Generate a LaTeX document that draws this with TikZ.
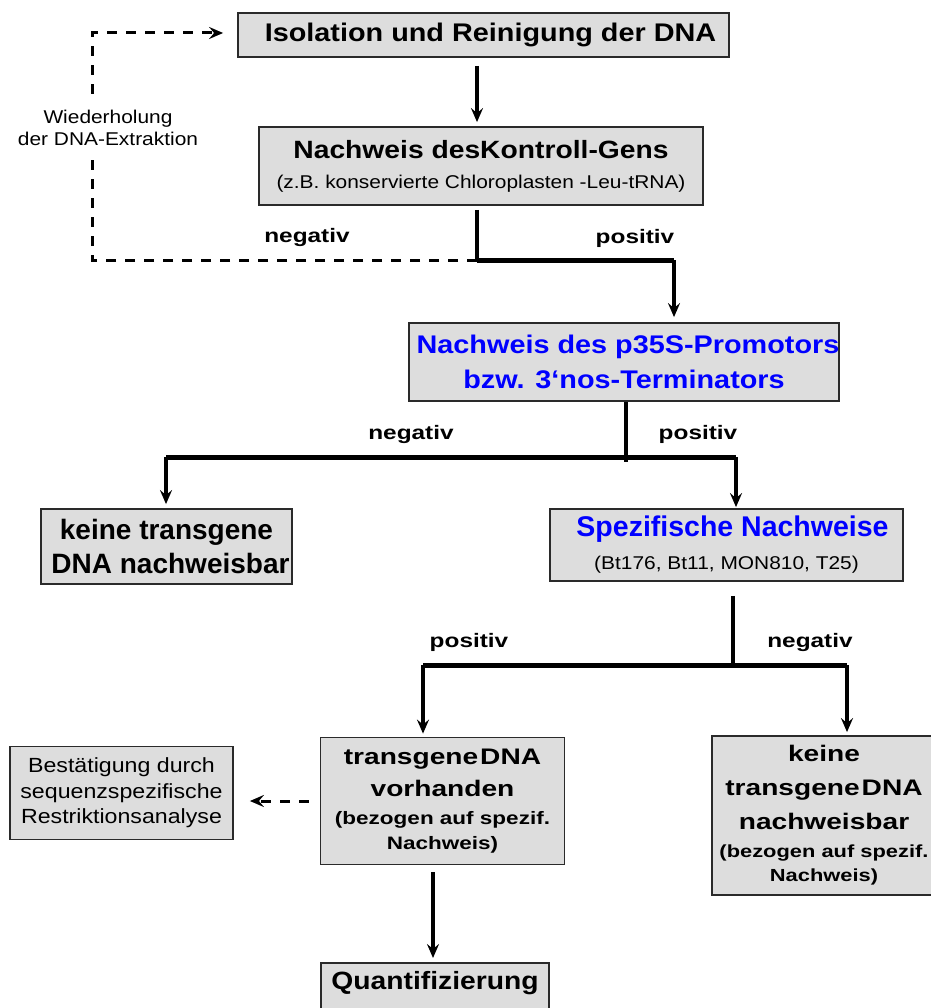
\documentclass[tikz,border=0pt]{standalone}
\usepackage{fontspec}
\setmainfont[FakeStretch=1.13]{Liberation Sans}
\newfontfamily\plainface{Liberation Sans}
\newfontfamily\wideface[FakeStretch=1.25]{Liberation Sans}
\usetikzlibrary{arrows.meta}
\definecolor{boxfill}{HTML}{DDDDDD}
\definecolor{boxline}{HTML}{2A2A2A}
\definecolor{hblue}{HTML}{0000FF}

\begin{document}
\begin{tikzpicture}[x=1pt,y=-1pt,
  box/.style={draw=boxline, line width=1.8pt, fill=boxfill, align=center, inner sep=0pt},
  tip/.style={-{Stealth[length=14pt,width=12pt,inset=5pt]}},
  link/.style={line width=3.5pt},
  bar/.style={line width=5pt},
  flow/.style={link, tip},
  loopback/.style={line width=3pt, dash pattern=on 10pt off 9pt, tip},
  branch/.style={font=\wideface\fontsize{19.5}{22}\selectfont\bfseries}]

\useasboundingbox (0,0) rectangle (930,1008);

% boxes
\node[box, minimum width=491pt, minimum height=44pt,
      font=\fontsize{25.5}{30}\selectfont\bfseries] (iso) at (483.5,35)
  {\hspace*{14pt}Isolation und Reinigung der DNA};

\node[box, minimum width=444pt, minimum height=78pt,
      font=\fontsize{25}{30}\selectfont\bfseries] (ctrl) at (481,166)
  {Nachweis desKontroll-Gens\\
   {\fontsize{18.5}{30}\selectfont\mdseries (z.B. konservierte Chloroplasten -Leu-tRNA)}};

\node[box, minimum width=428pt, minimum height=78pt, text=hblue,
      font=\fontsize{25.5}{35}\selectfont\bfseries] (p35) at (624,362)
  {\hspace*{8pt}Nachweis des p35S-Promotors\\bzw. 3‘nos-Terminators};

\node[box, minimum width=251pt, minimum height=75pt,
      font=\plainface\fontsize{28}{34}\selectfont\bfseries] (keine1) at (166.5,546.5)
  {keine transgene\\\hspace*{8pt}DNA nachweisbar};

\node[box, minimum width=353pt, minimum height=72pt,
      font=\fontsize{25.5}{33}\selectfont\bfseries] (spez) at (726.5,545)
  {\hspace*{12pt}{\plainface\color{hblue}\fontsize{28.5}{33}\selectfont Spezifische Nachweise}\\
   {\fontsize{18.5}{33}\selectfont\mdseries (Bt176, Bt11, MON810, T25)}};

\node[box, minimum width=223pt, minimum height=93pt,
      font=\fontsize{20.5}{25.5}\selectfont] (best) at (121.5,793)
  {Bestätigung durch\\sequenzspezifische\\Restriktionsanalyse};

\node[box, minimum width=244pt, minimum height=127pt,
      font=\wideface\fontsize{22.5}{32}\selectfont\bfseries] (trans) at (442.5,801)
  {transgene\hspace{2pt}DNA\\vorhanden\\[-4pt]
   {\fontsize{18}{32}\selectfont(bezogen auf spezif.}\\[-7pt]
   {\fontsize{18}{32}\selectfont Nachweis)}};

\node[box, minimum width=224pt, minimum height=159pt,
      font=\wideface\fontsize{22.5}{34}\selectfont\bfseries] (keine2) at (824,815.5)
  {keine\\transgene\hspace{2pt}DNA\\nachweisbar\\[-6pt]
   {\fontsize{17.5}{34}\selectfont(bezogen auf spezif.}\\[-10pt]
   {\fontsize{17.5}{34}\selectfont Nachweis)}};

\node[box, anchor=north, minimum width=228pt, text height=27pt, text depth=40pt,
      font=\fontsize{25}{30}\selectfont\bfseries] (quant) at (435,962)
  {Quantifizierung};

% junction points
\coordinate (a1) at (477,260);
\coordinate (a1r) at (674,260);
\coordinate (back) at (92,33);
\coordinate (a2) at (626,457);
\coordinate (a2l) at (166,457);
\coordinate (a2r) at (736,457);
\coordinate (a3) at (733,665);
\coordinate (a3l) at (423,665);
\coordinate (a3r) at (847,665);
\coordinate (a4) at (433,910);

% connectors
\draw[flow, shorten <=8pt, shorten >=4pt] (iso.south -| a1) -- (ctrl.north -| a1);
\draw[link, shorten <=4pt] (ctrl.south -| a1) -- (a1);
\draw[loopback, shorten >=14pt] (a1) -| (back) -- (iso.west |- back);
\draw[bar] (a1) -- (a1r);
\draw[flow, shorten >=5pt] (a1r) -- (p35.north -| a1r);

\draw[link] (p35.south -| a2) -- ([yshift=-5pt]a2);
\draw[bar] (a2l) -- (a2r);
\draw[flow, shorten >=4pt] (a2l) -- (keine1.north -| a2l);
\draw[flow, shorten >=1pt] (a2r) -- (spez.north -| a2r);

\draw[link, shorten <=14pt] (spez.south -| a3) -- (a3);
\draw[bar] (a3l) -- (a3r);
\draw[flow, shorten >=3pt] (a3l) -- (trans.north -| a3l);
\draw[flow, shorten >=3pt] (a3r) -- (keine2.north -| a3r);

\draw[loopback, shorten <=11pt, shorten >=16pt] (trans.west) -- (best.east |- trans.west);
\draw[flow, shorten <=7pt, shorten >=4pt] (trans.south -| a4) -- (quant.north -| a4);

% branch labels
\node[branch] (neg1) at (307,238) {negativ};
\node[branch] (pos1) at (635,238) {positiv};
\node[branch] (neg2) at (411,434) {negativ};
\node[branch] (pos2) at (698,434) {positiv};
\node[branch] (pos3) at (469,642) {positiv};
\node[branch] (neg3) at (810,642) {negativ};

% label on the dashed return path, interrupting it
\node[fill=white, inner xsep=2pt, inner ysep=9pt,
      font=\fontsize{18.5}{22}\selectfont, align=center] (rep) at (108,128)
  {Wiederholung\\der DNA-Extraktion};
\end{tikzpicture}
\end{document}
